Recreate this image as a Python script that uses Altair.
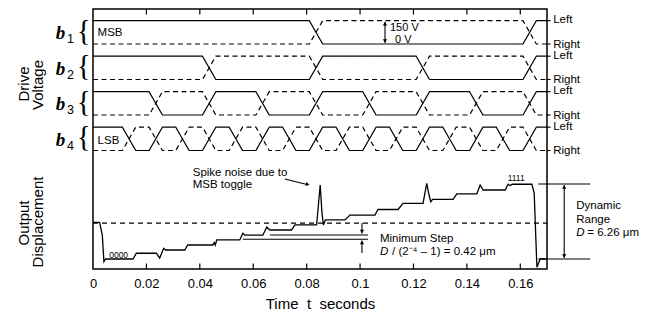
import altair as alt
import pandas as pd

# ---------------- data ----------------
T_MAX = 0.17
x_ticks = [0, 0.02, 0.04, 0.06, 0.08, 0.1, 0.12, 0.14, 0.16]
inner_ticks = [0.02, 0.04, 0.06, 0.08, 0.1, 0.12, 0.14, 0.16]

bit_names = ["b1", "b2", "b3", "b4"]
# instants (s) at which the drive code advances
switch_times = [0.0135, 0.0235, 0.0335, 0.0435, 0.0535, 0.0635, 0.0735, 0.0835,
                0.0935, 0.1035, 0.1135, 0.1235, 0.1335, 0.1435, 0.1535, 0.1635]
# code held before the first switch and after each switch
codes = [0, 1, 2, 3, 4, 5, 6, 7, 8, 9, 10, 11, 12, 13, 14, 15, 0]
drive_volts = 150          # V
ramp_half = 0.0025         # s, half-duration of each drive ramp

# output displacement (um, relative to code 0000)
out_t = [0.0, 0.00247, 0.00349, 0.00409, 0.00472, 0.01496, 0.01624, 0.02373,
         0.02497, 0.02647, 0.02722, 0.03435, 0.03547, 0.04484, 0.04541, 0.04578,
         0.04634, 0.05497, 0.05609, 0.05684, 0.06359, 0.06509, 0.06622, 0.07435,
         0.07559, 0.08373, 0.0844, 0.08508, 0.08571, 0.08628, 0.08703, 0.09434,
         0.09621, 0.10559, 0.10671, 0.11421, 0.11609, 0.12358, 0.12497, 0.12583,
         0.12647, 0.12715, 0.13483, 0.13622, 0.14372, 0.14496, 0.14608, 0.15433,
         0.15546, 0.15621, 0.15696, 0.16434, 0.1652, 0.16622, 0.16746, 0.17]
out_um = [3.06, 3.06, 2.0, -0.23, 0.0, 0.0, 0.48, 0.48,
          0.08, 0.89, 0.75, 0.75, 1.17, 1.17, 1.36, 1.17,
          1.59, 1.59, 2.15, 2.0, 2.0, 2.67, 2.42, 2.42,
          2.84, 2.84, 4.51, 6.18, 3.92, 2.84, 3.26, 3.26,
          3.67, 3.67, 4.15, 4.13, 4.65, 4.65, 6.32, 5.34,
          4.78, 4.98, 4.98, 5.43, 5.43, 6.18, 5.76, 5.76,
          6.24, 6.14, 6.24, 6.24, 5.51, -0.69, 0.0, 0.0]
dynamic_range_um = 6.26
mid_level_um = 3.0

# ---------------- layout constants (vertical placement) ----------------
ROW_LOW = [225.0, 189.5, 154.0, 118.5]   # plot units of 0 V for each bit row
ROW_PER_V = 23.3 / 150
OUT_BASE = 10.0
OUT_PER_UM = 75.0 / dynamic_range_um
FONT = "Liberation Sans"


def out_y(um):
    return OUT_BASE + um * OUT_PER_UM


# drive waveforms
rows = []
for i, name in enumerate(bit_names):
    shift = 3 - i
    for style in ["solid", "dashed"]:
        def level(code):
            bit = (code >> shift) & 1
            v = drive_volts if bit == 0 else 0
            if style == "dashed":
                v = drive_volts - v
            return v
        pts = [(0.0, level(codes[0]))]
        for k, ts in enumerate(switch_times):
            a, b = level(codes[k]), level(codes[k + 1])
            if a != b:
                pts.append((ts - ramp_half, a))
                pts.append((ts + ramp_half, b))
        pts.append((T_MAX, level(codes[-1])))
        for j, (t, v) in enumerate(pts):
            rows.append({"t": t, "yp": ROW_LOW[i] + v * ROW_PER_V,
                         "series": f"{name}-{style}", "dash": style, "o": j})
drive_df = pd.DataFrame(rows)

out_df = pd.DataFrame({"t": out_t, "yp": [out_y(v) for v in out_um],
                       "o": list(range(len(out_t)))})

# ---------------- encodings ----------------
xs = alt.Scale(domain=[0, T_MAX], nice=False, zero=False)
ys = alt.Scale(domain=[0, 260], nice=False, zero=False)
X = alt.X("t:Q", scale=xs,
          axis=alt.Axis(values=x_ticks, format="~g", ticks=False, domain=False,
                        grid=False, labelFont=FONT, labelFontSize=13,
                        labelColor="black", labelPadding=8, labelFlush=False,
                        title="Time\u00a0\u00a0t\u00a0\u00a0seconds",
                        titleFont=FONT, titleFontSize=15,
                        titleFontWeight="normal", titleColor="black",
                        titlePadding=6))
Y = alt.Y("yp:Q", scale=ys, axis=None)

drive = alt.Chart(drive_df).mark_line(color="black", strokeWidth=1.2).encode(
    x=X, y=Y, detail="series:N", order="o:Q",
    strokeDash=alt.StrokeDash("dash:N", scale=alt.Scale(
        domain=["solid", "dashed"], range=[[1, 0], [5, 3.5]]), legend=None))

output = alt.Chart(out_df).mark_line(color="black", strokeWidth=1.3).encode(
    x=X, y=Y, order="o:Q")


def rules(rows_, **kw):
    df = pd.DataFrame(rows_, columns=["t", "t2", "yp", "yp2"])
    return alt.Chart(df).mark_rule(color="black", **kw).encode(
        x=X, x2=alt.X2("t2:Q"), y=Y, y2=alt.Y2("yp2:Q"))


mid_dash = rules([(0, T_MAX, out_y(mid_level_um), out_y(mid_level_um))],
                 strokeWidth=1.2, strokeDash=[5, 4])
tick_rows = [(t, t, 260, 254.5) for t in inner_ticks] + \
            [(t, t, 0, 5.5) for t in inner_ticks]
ticks = rules(tick_rows, strokeWidth=1.2)

stub_rows = []
for i in range(4):
    for v in (0, drive_volts):
        y = ROW_LOW[i] + v * ROW_PER_V
        stub_rows.append((T_MAX, 0.17135, y, y))
stubs = rules(stub_rows, strokeWidth=1.1)

annot_rows = [
    # 150 V arrow
    (0.10934, 0.10934, ROW_LOW[0] + 1, ROW_LOW[0] + drive_volts * ROW_PER_V - 1),
    # spike arrow shaft
    (0.07183, 0.0805, 90, 84.3),
    # minimum step lines
    (0.06622, 0.10296, 34, 34),
    (0.05609, 0.10296, 29.7, 29.7),
    # minimum step arrows
    (0.10071, 0.10071, out_y(mid_level_um), 35.5),
    (0.10071, 0.10071, 16, 28.5),
    # dynamic range lines and arrow
    (0.16669, 0.18619, out_y(dynamic_range_um), out_y(dynamic_range_um)),
    (0.16669, 0.18619, out_y(0), out_y(0)),
    (0.17645, 0.17645, out_y(0) + 1, out_y(dynamic_range_um) - 1),
]
annots = rules(annot_rows, strokeWidth=1.1)


def heads(rows_, shape, angle=0):
    df = pd.DataFrame(rows_, columns=["t", "yp"])
    return alt.Chart(df).mark_point(shape=shape, filled=True, color="black",
                                    size=18, angle=angle, opacity=1).encode(x=X, y=Y)


up_heads = heads([(0.10934, ROW_LOW[0] + drive_volts * ROW_PER_V - 3),
                  (0.10071, 26.5),
                  (0.17645, out_y(dynamic_range_um) - 3)], "triangle-up")
down_heads = heads([(0.10934, ROW_LOW[0] + 3),
                    (0.10071, 37.5),
                    (0.17645, out_y(0) + 3)], "triangle-down")
spike_head = heads([(0.0804, 84.6)], "triangle-right", angle=14)


def texts(rows_, **kw):
    df = pd.DataFrame(rows_, columns=["t", "yp", "label"])
    base = dict(font=FONT, color="black")
    base.update(kw)
    return alt.Chart(df).mark_text(**base).encode(x=X, y=Y, text="label:N")


side_titles = texts([(-0.02602, 185, "Drive"), (-0.02077, 184, "Voltage"),
                     (-0.02602, 46, "Output"), (-0.02077, 47, "Displacement")],
                    fontSize=15, angle=270, align="center", baseline="middle")

b_letters = texts([(-0.01215, 230 - 35.5 * i, "b") for i in range(4)],
                  font="Liberation Serif", fontSize=19, fontStyle="italic",
                  fontWeight="bold", align="center", baseline="alphabetic")
b_subs = texts([(-0.00971, 226 - 35.5 * i, str(i + 1)) for i in range(4)],
               fontSize=12.5, align="left", baseline="alphabetic")
braces = texts([(-0.00352, 229.5 - 35.5 * i, "{") for i in range(4)],
               font="Liberation Serif", fontSize=29, fontWeight="normal",
               align="center", baseline="alphabetic")

lr_rows = []
for i in range(4):
    lr_rows.append((0.17233, ROW_LOW[i] + drive_volts * ROW_PER_V + 0.5, "Left"))
    lr_rows.append((0.17233, ROW_LOW[i] - 0.5, "Right"))
lr = texts(lr_rows, fontSize=11.5, align="left", baseline="middle")

small = texts([(0.00172, 236, "MSB"), (0.00172, 128, "LSB"),
               (0.03735, 96, "Spike noise due to"), (0.03735, 84, "MSB toggle"),
               (0.10746, 30, "Minimum Step"),
               (0.18095, 63, "Dynamic"), (0.18095, 49, "Range")],
              fontSize=11.5, align="left", baseline="middle")
volts_txt = texts([(0.11121, 241.5, "150 V"), (0.11309, 229.5, "0 V")],
                  fontSize=11, align="left", baseline="middle")
italic_d = texts([(0.10746, 17, "D"), (0.18095, 36, "D")],
                 fontSize=11.5, fontStyle="italic", align="left", baseline="middle")
formulas = texts([(0.11196, 17, "/ (2\u207b\u2074 \u2013 1) = 0.42 \u03bcm"),
                  (0.18508, 36, "= 6.26 \u03bcm")],
                 fontSize=11.5, align="left", baseline="middle")
codes_txt = texts([(0.0096, 14.5, "0000"), (0.15845, 91, "1111")],
                  fontSize=8.5, align="center", baseline="middle")

chart = alt.layer(
    drive, output, mid_dash, ticks, stubs, annots, up_heads, down_heads,
    spike_head, side_titles, b_letters, b_subs, braces, lr, small, volts_txt,
    italic_d, formulas, codes_txt
).properties(
    width=454, height=260, autosize="none",
    padding={"left": 85, "top": 1, "right": 92, "bottom": 45},
    background="white"
).configure_view(stroke="black", strokeWidth=1.5)

chart.save("out.html", embed_options={"renderer": "svg", "actions": False})
